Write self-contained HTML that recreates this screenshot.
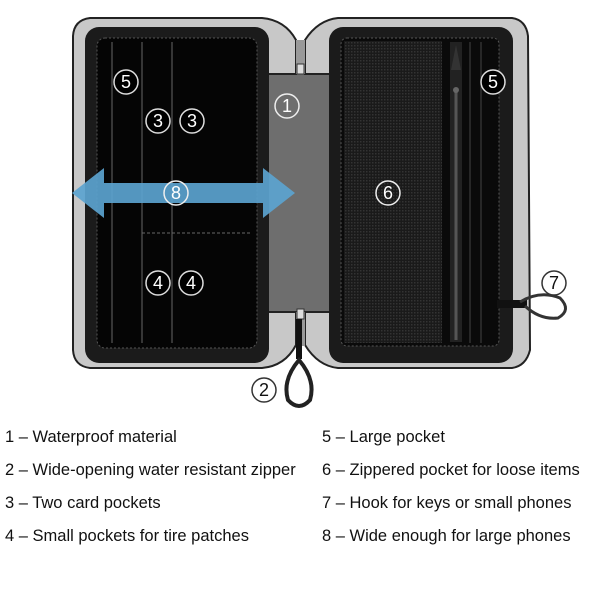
<!DOCTYPE html>
<html><head><style>
body{margin:0;width:600px;height:600px;background:#fff;overflow:hidden;font-family:"Liberation Sans",sans-serif}
.t{position:absolute;font-size:16.5px;color:#111;white-space:nowrap}
</style></head><body>
<svg width="600" height="420" style="position:absolute;left:0;top:0">
<defs>
<pattern id="mesh" width="3" height="3" patternUnits="userSpaceOnUse"><rect width="3" height="3" fill="#1a1a1a"/><rect width="1.5" height="1.5" fill="#333"/></pattern>
</defs>
<rect x="262" y="74" width="76" height="240" fill="#6e6e6e"/>
<path d="M90 18 L262 18 Q285 20 296 40 L296 74 L262 74 L262 312 L296 312 L296 345 Q285 366 262 368 L90 368 Q74 366 73 350 L73 36 Q74 20 90 18Z" fill="#c8c8c8" stroke="#222" stroke-width="2"/>
<rect x="85" y="27" width="184" height="336" rx="14" fill="#1b1b1b"/>
<rect x="97" y="38" width="160" height="310" rx="8" fill="#050505" stroke="#555" stroke-width="1" stroke-dasharray="2 2"/>
<line x1="112" y1="42" x2="112" y2="343" stroke="#666"/>
<line x1="142" y1="42" x2="142" y2="343" stroke="#666"/>
<line x1="172" y1="42" x2="172" y2="343" stroke="#666"/>
<line x1="142" y1="233" x2="252" y2="233" stroke="#666" stroke-dasharray="3 2"/>
<path d="M338 18 L512 18 Q526 20 528 36 L530 350 Q526 366 512 368 L338 368 Q318 366 305 345 L305 312 L338 312 L338 74 L305 74 L305 40 Q318 20 338 18Z" fill="#c8c8c8" stroke="#222" stroke-width="2"/>
<rect x="329" y="27" width="184" height="336" rx="14" fill="#1b1b1b"/>
<rect x="341" y="38" width="158" height="308" rx="6" fill="#0a0a0a" stroke="#555" stroke-dasharray="2 2"/>
<rect x="344" y="41" width="98" height="302" fill="url(#mesh)"/>
<rect x="450" y="42" width="12" height="300" fill="#222"/>
<line x1="456" y1="90" x2="456" y2="340" stroke="#555" stroke-width="3"/>
<path d="M451 70 L456 45 L461 70Z" fill="#333"/>
<circle cx="456" cy="90" r="3" fill="#666"/>
<line x1="470" y1="42" x2="470" y2="343" stroke="#444"/>
<line x1="481" y1="42" x2="481" y2="343" stroke="#444"/>
<rect x="296" y="40" width="9" height="34" fill="#999"/>
<rect x="297" y="64" width="7" height="10" fill="#ddd" stroke="#333"/>
<rect x="296" y="312" width="9" height="34" fill="#999"/>
<rect x="297" y="309" width="7" height="10" fill="#ddd" stroke="#333"/>
<rect x="296" y="319" width="6" height="40" fill="#111"/>
<path d="M299 360 Q282 380 288 400 Q299 412 310 400 Q316 380 299 360Z" fill="none" stroke="#222" stroke-width="4"/>
<rect x="497" y="300" width="30" height="8" fill="#111"/>
<path d="M520 302 Q540 290 560 298 Q572 310 558 318 Q540 320 525 306" fill="none" stroke="#333" stroke-width="3"/>
<path d="M72 193 L104 168 L104 183 L263 183 L263 168 L295 193 L263 218 L263 203 L104 203 L104 218Z" fill="#5ba3cf" opacity="0.92"/>
<g font-size="18" text-anchor="middle" font-family="Liberation Sans,sans-serif">
<g fill="#000" stroke="#ddd" stroke-width="1.5">
<circle cx="126" cy="82" r="12"/><circle cx="158" cy="121" r="12"/><circle cx="192" cy="121" r="12"/>
<circle cx="158" cy="283" r="12"/><circle cx="191" cy="283" r="12"/><circle cx="493" cy="82" r="12"/>
</g>
<g fill="none" stroke="#eee" stroke-width="1.5">
<circle cx="287" cy="106" r="12"/><circle cx="388" cy="193" r="12"/><circle cx="176" cy="193" r="12"/>
</g>
<g fill="#fff" stroke="#333" stroke-width="1.5">
<circle cx="264" cy="390" r="12"/><circle cx="554" cy="283" r="12"/>
</g>
<g fill="#fff">
<text x="126" y="88">5</text><text x="158" y="127">3</text><text x="192" y="127">3</text>
<text x="158" y="289">4</text><text x="191" y="289">4</text><text x="493" y="88">5</text>
<text x="287" y="112">1</text><text x="388" y="199">6</text><text x="176" y="199">8</text>
</g>
<g fill="#111"><text x="264" y="396">2</text><text x="554" y="289">7</text></g>
</g>
</svg>
<div class="t" style="left:5px;top:428px">1 – Waterproof material</div>
<div class="t" style="left:5px;top:461px">2 – Wide-opening water resistant zipper</div>
<div class="t" style="left:5px;top:494px">3 – Two card pockets</div>
<div class="t" style="left:5px;top:527px">4 – Small pockets for tire patches</div>
<div class="t" style="left:322px;top:428px">5 – Large pocket</div>
<div class="t" style="left:322px;top:461px">6 – Zippered pocket for loose items</div>
<div class="t" style="left:322px;top:494px">7 – Hook for keys or small phones</div>
<div class="t" style="left:322px;top:527px">8 – Wide enough for large phones</div>
</body></html>
